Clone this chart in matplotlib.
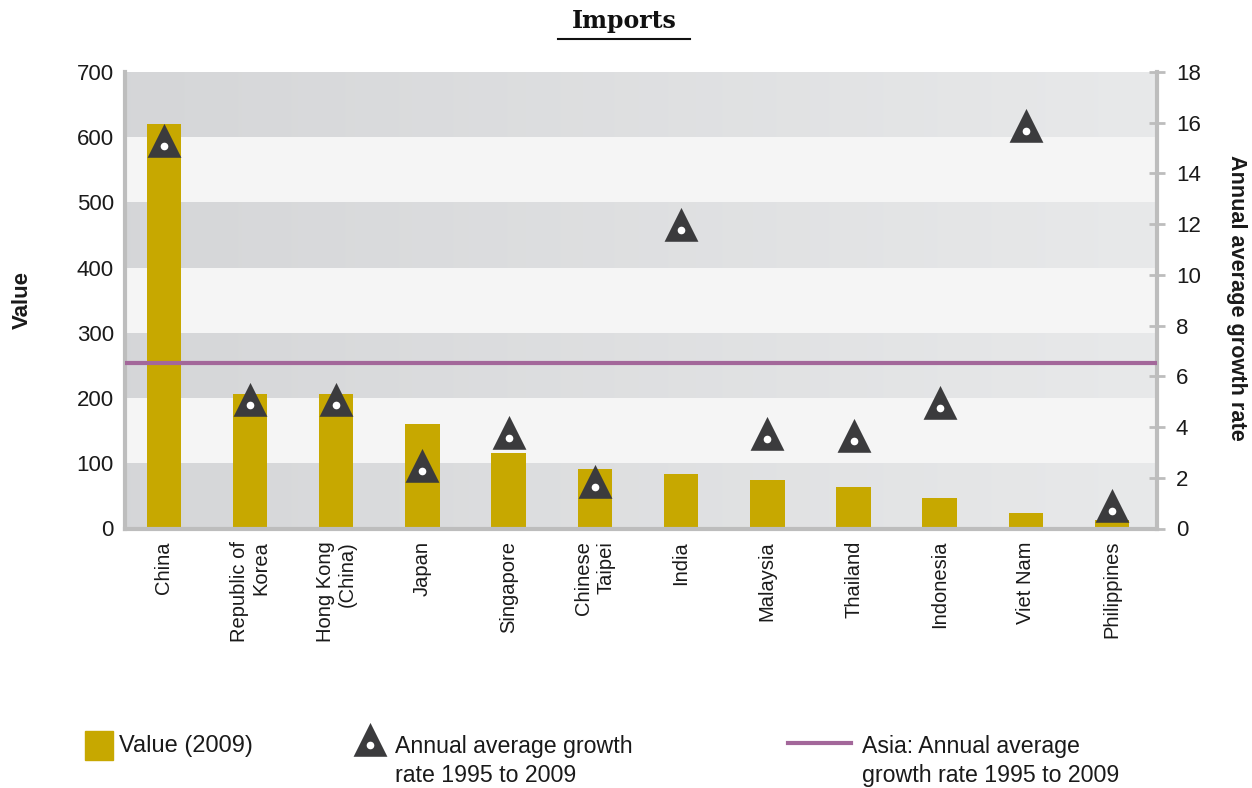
import numpy as np
import matplotlib
matplotlib.use("Agg")
import matplotlib.pyplot as plt
from matplotlib.path import Path
from matplotlib.lines import Line2D
from matplotlib.patches import Rectangle

plt.rcParams['font.family'] = ['Liberation Sans', 'DejaVu Sans']

# Data
countries = ["China", "Republic of\nKorea", "Hong Kong\n(China)", "Japan", "Singapore",
             "Chinese\nTaipei", "India", "Malaysia", "Thailand", "Indonesia",
             "Viet Nam", "Philippines"]
values_2009 = [620, 206, 206, 161, 116, 92, 84, 74, 63, 47, 24, 13]
growth_95_09 = [15.1, 4.85, 4.87, 2.27, 3.56, 1.65, 11.77, 3.54, 3.46, 4.75, 15.67, 0.70]
asia_growth = 6.53

value_ticks = [0, 100, 200, 300, 400, 500, 600, 700]
growth_ticks = [0, 2, 4, 6, 8, 10, 12, 14, 16, 18]

GOLD = "#c7a800"
TRI = "#3b3b3d"
PURPLE = "#a3679a"
SPINE = "#bdbdbd"
TEXT = "#1a1a1a"
DARK_L = np.array([0.835, 0.839, 0.847])
DARK_R = np.array([0.910, 0.914, 0.918])
LIGHT = "#f5f5f5"

# Triangle marker whose origin is the centroid (where the white dot sits)
tri_marker = Path([(0, 22), (-16.5, -11), (16.5, -11), (0, 22)],
                  [Path.MOVETO, Path.LINETO, Path.LINETO, Path.CLOSEPOLY])

fig = plt.figure(figsize=(12.52, 7.88), dpi=100)
W, H = 1252, 788
ax = fig.add_axes([125 / W, 1 - 528.5 / H, (1157 - 125) / W, (528.5 - 72) / H])
ax2 = ax.twinx()

x = np.arange(len(countries))
xlim = (-0.45, 11.52)

# Background bands: darker bands carry a soft left-to-right gradient
grad = np.linspace(0, 1, 256)
grad_img = (DARK_L[None, :] * (1 - grad[:, None]) + DARK_R[None, :] * grad[:, None])[None, :, :]
for i, (lo, hi) in enumerate(zip(value_ticks[:-1], value_ticks[1:])):
    if i % 2 == 0:
        ax.imshow(grad_img, extent=(xlim[0], xlim[1], lo, hi), aspect='auto',
                  zorder=0, interpolation='bilinear')
    else:
        ax.axhspan(lo, hi, color=LIGHT, zorder=0, lw=0)

ax.bar(x, values_2009, width=0.4, color=GOLD, zorder=2)
ax.set_xlim(*xlim)
ax.set_ylim(0, 700)
ax.set_yticks(value_ticks)
ax.set_xticks(x)
ax.set_xticklabels(countries, rotation=90, fontsize=14.5, multialignment='right',
                   color=TEXT)
ax.tick_params(axis='x', length=0, pad=9)
ax.tick_params(axis='y', length=0, pad=8, labelsize=16, labelcolor=TEXT)

ax2.set_ylim(0, 18)
ax2.set_yticks(growth_ticks)
ax2.tick_params(axis='y', direction='inout', length=11, width=2, color=SPINE,
                pad=8, labelsize=16, labelcolor=TEXT)
ax2.axhline(asia_growth, color=PURPLE, lw=3, zorder=3)
ax2.plot(x, growth_95_09, linestyle='none', marker=tri_marker, markersize=32.5,
         color=TRI, markeredgewidth=0, zorder=4)
ax2.plot(x, growth_95_09, linestyle='none', marker='o', markersize=5.5,
         color='white', markeredgewidth=0, zorder=5)

for a in (ax, ax2):
    for s in a.spines.values():
        s.set_visible(False)
ax.spines['left'].set_visible(True)
ax.spines['left'].set_color(SPINE)
ax.spines['left'].set_linewidth(3)
ax.spines['bottom'].set_visible(True)
ax.spines['bottom'].set_color(SPINE)
ax.spines['bottom'].set_linewidth(3)
ax2.spines['right'].set_visible(True)
ax2.spines['right'].set_color(SPINE)
ax2.spines['right'].set_linewidth(3)

# Axis titles
fig.text(22 / W, 1 - 300 / H, "Value", rotation=90, ha='center', va='center',
         fontsize=16, fontweight='bold', color=TEXT)
fig.text(1237 / W, 1 - 298 / H, "Annual average growth rate", rotation=-90,
         ha='center', va='center', fontsize=15.6, fontweight='bold', color=TEXT)

# Title with underline
fig.text(624 / W, 1 - 21 / H, "Imports", ha='center', va='center', fontsize=17,
         fontweight='bold', family='DejaVu Serif', color="#111111")
fig.add_artist(Line2D([558 / W, 690 / W], [1 - 39 / H, 1 - 39 / H], color='#111111',
                      lw=1.5, transform=fig.transFigure))

# Legend
fig.add_artist(Rectangle((85 / W, 1 - 760 / H), 28 / W, 29 / H, color=GOLD,
                         transform=fig.transFigure))
fig.text(119 / W, 1 - 746 / H, "Value (2009)", ha='left', va='center', fontsize=17,
         color=TEXT)
fig.add_artist(Line2D([370 / W], [1 - 745 / H], marker=tri_marker, markersize=32.5,
                      color=TRI, markeredgewidth=0, linestyle='none',
                      transform=fig.transFigure))
fig.add_artist(Line2D([370 / W], [1 - 745 / H], marker='o', markersize=5.5,
                      color='white', markeredgewidth=0, linestyle='none',
                      transform=fig.transFigure))
fig.text(395 / W, 1 - 761 / H, "Annual average growth\nrate 1995 to 2009", ha='left',
         va='center', fontsize=16.7, linespacing=1.33, color=TEXT)
fig.add_artist(Line2D([788 / W, 851 / W], [1 - 743 / H, 1 - 743 / H], color=PURPLE,
                      lw=3, transform=fig.transFigure))
fig.text(862 / W, 1 - 761 / H, "Asia: Annual average\ngrowth rate 1995 to 2009",
         ha='left', va='center', fontsize=16.7, linespacing=1.33, color=TEXT)

fig.savefig("out.png", dpi=100)
